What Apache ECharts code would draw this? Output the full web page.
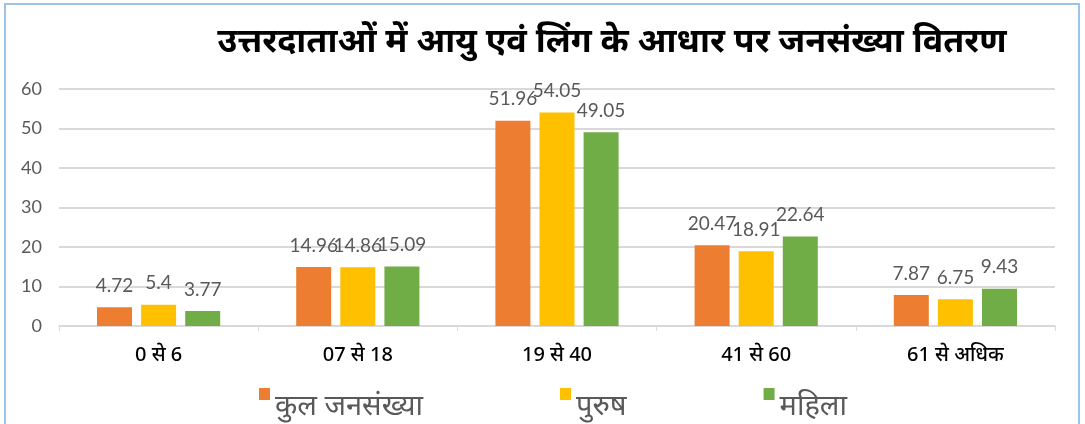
<!DOCTYPE html>
<html>
<head>
<meta charset="utf-8">
<script src="https://cdn.jsdelivr.net/npm/echarts@6/dist/echarts.min.js"></script>
<style>
  html, body { margin: 0; padding: 0; background: #fff; }
  #chart { position: absolute; left: 0; top: 0; width: 1085px; height: 424px; }
  #frame {
    position: absolute; left: 4px; top: 3px; width: 1072px; height: 440px;
    border: 2px solid #9dc3e6; pointer-events: none;
  }
</style>
</head>
<body>
<div id="chart"></div>
<div id="frame"></div>
<script>
// आयु वर्ग
const categories = ['0 से 6', '07 से 18', '19 से 40', '41 से 60', '61 से अधिक'];
// प्रतिशत मान
const totalValues = [4.72, 14.96, 51.96, 20.47, 7.87];
const maleValues = [5.4, 14.86, 54.05, 18.91, 6.75];
const femaleValues = [3.77, 15.09, 49.05, 22.64, 9.43];
const yTicks = [0, 60, 10];

const chart = echarts.init(document.getElementById('chart'));

const barLabel = {
  show: true,
  position: 'top',
  distance: 12,
  color: '#595959',
  fontSize: 19,
  fontFamily: 'Lato, sans-serif'
};

chart.setOption({
  animation: false,
  title: {
    text: 'उत्तरदाताओं में आयु एवं लिंग के आधार पर जनसंख्या वितरण',
    left: 607,
    textAlign: 'center',
    top: 20,
    textStyle: {
      fontSize: 34,
      fontWeight: 'bold',
      color: '#000',
      fontFamily: 'Noto Sans, sans-serif'
    }
  },
  legend: {
    data: ['कुल जनसंख्या', 'पुरुष', 'महिला'],
    left: 254,
    top: 383,
    itemWidth: 11,
    itemHeight: 12,
    itemGap: 137,
    icon: 'rect',
    formatter: name => '{t|' + name + '}',
    textStyle: {
      color: '#595959',
      fontSize: 29,
      fontFamily: 'Noto Sans, sans-serif',
      rich: {
        t: {
          color: '#595959',
          fontSize: 29,
          fontFamily: 'Noto Sans, sans-serif',
          padding: [26, 0, 0, 0]
        }
      }
    }
  },
  grid: { left: 59, right: 30, top: 89, bottom: 98, containLabel: false },
  xAxis: {
    type: 'category',
    data: categories,
    axisLine: { lineStyle: { color: '#d9d9d9', width: 1.5 } },
    axisTick: { show: true, lineStyle: { color: '#d9d9d9' }, length: 5 },
    axisLabel: {
      color: '#000',
      fontSize: 20,
      fontWeight: 500,
      margin: 19,
      fontFamily: 'Noto Sans, sans-serif'
    }
  },
  yAxis: {
    type: 'value',
    min: yTicks[0],
    max: yTicks[1],
    interval: yTicks[2],
    axisLine: { show: false },
    axisTick: { show: false },
    splitLine: { lineStyle: { color: '#d9d9d9', width: 2 } },
    axisLabel: { color: '#595959', fontSize: 18, margin: 17, fontFamily: 'Lato, sans-serif' }
  },
  series: [
    {
      name: 'कुल जनसंख्या',
      type: 'bar',
      data: totalValues,
      barWidth: 35,
      barGap: '26%',
      itemStyle: { color: '#ed7d31' },
      label: barLabel,
      labelLayout: { moveOverlap: 'shiftX' }
    },
    {
      name: 'पुरुष',
      type: 'bar',
      data: maleValues,
      barWidth: 35,
      barGap: '26%',
      itemStyle: { color: '#ffc000' },
      label: barLabel,
      labelLayout: { moveOverlap: 'shiftX' }
    },
    {
      name: 'महिला',
      type: 'bar',
      data: femaleValues,
      barWidth: 35,
      barGap: '26%',
      itemStyle: { color: '#70ad47' },
      label: barLabel,
      labelLayout: { moveOverlap: 'shiftX' }
    }
  ]
});
</script>
</body>
</html>
